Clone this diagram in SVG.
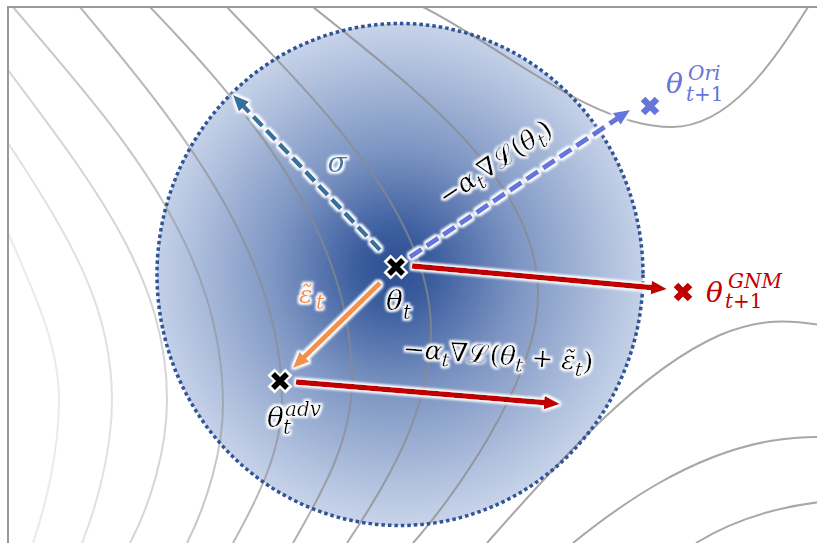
<svg xmlns="http://www.w3.org/2000/svg" width="817" height="543" viewBox="0 0 817 543">
<defs>
<style>
.ct{fill:none;stroke:#8a8a8a;stroke-width:2}
.m{font-family:"DejaVu Serif","Liberation Serif",serif}
.i{font-style:italic}
.gl{filter:url(#glow)}
.arr{fill:none}
</style>
<radialGradient id="rg" gradientUnits="userSpaceOnUse" cx="400" cy="274" r="250" fx="394" fy="268">
<stop offset="0" stop-color="#2d4f92"/>
<stop offset="0.15" stop-color="#3b5d9e"/>
<stop offset="0.5" stop-color="#7f97c4"/>
<stop offset="0.8" stop-color="#abbcdb"/>
<stop offset="1" stop-color="#c7d3e9"/>
</radialGradient>
<filter id="glow" filterUnits="userSpaceOnUse" x="0" y="0" width="817" height="543">
<feMorphology in="SourceAlpha" operator="dilate" radius="1.5" result="d"/>
<feGaussianBlur in="d" stdDeviation="1.2" result="b"/>
<feFlood flood-color="#ffffff" result="f"/>
<feComposite in="f" in2="b" operator="in" result="g"/>
<feMerge><feMergeNode in="g"/><feMergeNode in="SourceGraphic"/></feMerge>
</filter>
<marker id="ah-sig" markerUnits="userSpaceOnUse" markerWidth="20" markerHeight="20" viewBox="0 0 20 20" refX="2" refY="10" orient="auto"><path d="M0,3 L16,10 L0,17 z" fill="#36709e"/></marker>
<marker id="ah-ori" markerUnits="userSpaceOnUse" markerWidth="20" markerHeight="20" viewBox="0 0 20 20" refX="2" refY="10" orient="auto"><path d="M0,3 L16,10 L0,17 z" fill="#6575da"/></marker>
<marker id="ah-eps" markerUnits="userSpaceOnUse" markerWidth="20" markerHeight="20" viewBox="0 0 20 20" refX="2" refY="10" orient="auto"><path d="M0,3 L16,10 L0,17 z" fill="#f39149"/></marker>
<marker id="ah-red" markerUnits="userSpaceOnUse" markerWidth="20" markerHeight="20" viewBox="0 0 20 20" refX="2" refY="10" orient="auto"><path d="M0,3 L16,10 L0,17 z" fill="#c00000"/></marker>
<path id="xw" d="M-9,-9L9,9M9,-9L-9,9"/>
<path id="xb" d="M-7,-7L7,7M7,-7L-7,7"/>
<clipPath id="frame"><rect x="8" y="7" width="809" height="536"/></clipPath>
</defs>

<rect x="0" y="0" width="817" height="543" fill="#ffffff"/>

<g id="region">
<ellipse cx="400" cy="274.5" rx="243" ry="251" fill="url(#rg)"/>
</g>

<g id="contours" clip-path="url(#frame)">
<path class="ct" stroke-opacity="0.18" d="M8,233 C40,305 59,350 59,400 C59,450 46,505 33,543"/>
<path class="ct" stroke-opacity="0.26" d="M8,143 C74,243 112,310 112,400 C112,450 97,505 82,543"/>
<path class="ct" stroke-opacity="0.36" d="M8,70 C98,190 167,280 167,400 C167,450 150,505 130,543"/>
<path class="ct" stroke-opacity="0.48" d="M13,7 C117,129 223,245 223,405 C223,450 207,503 187,543"/>
<path class="ct" stroke-opacity="0.6" d="M80,7 C176,122 282,250 282,400 C282,450 258,498 233,543"/>
<path class="ct" stroke-opacity="0.68" d="M150,7 C247,108 352,230 352,380 C352,440 323,491 293,543"/>
<path class="ct" stroke-opacity="0.72" d="M227,7 C310,95 431,210 431,330 C431,410 386,485 347,543"/>
<path class="ct" stroke-opacity="0.75" d="M313,7 C430,100 538,185 538,295 C538,380 453,498 413,543"/>
<path class="ct" stroke-opacity="0.75" d="M423,7 C500,45 590,127 672,127 C730,127 775,60 808,7 L830,-25"/>
<path class="ct" stroke-opacity="0.75" d="M487,543 C560,460 640,370 720,335 C760,318 790,320 820,325"/>
<path class="ct" stroke-opacity="0.75" d="M573,543 C620,505 690,455 770,441 C790,438 805,437 820,437"/>
<path class="ct" stroke-opacity="0.75" d="M696,543 C730,522 770,508 820,502"/>
</g>

<g id="region-border">
<ellipse cx="400" cy="274.5" rx="243" ry="251" fill="none" stroke="#2f5597" stroke-width="3.5" stroke-dasharray="3.5 3"/>
</g>

<g id="frame-lines" stroke="#999999" stroke-width="2" fill="none">
<path d="M8,543 L8,7 L817,7"/>
</g>

<g id="connectors">
<path class="arr gl" d="M380,250 L242.6,105.2" stroke="#36709e" stroke-width="4.5" stroke-dasharray="13 6" marker-end="url(#ah-sig)"/>
<path class="arr gl" d="M410,257 L618.4,117.8" stroke="#6575da" stroke-width="5" stroke-dasharray="14 6" marker-end="url(#ah-ori)"/>
<path class="arr gl" d="M380,283 L303,358.2" stroke="#f39149" stroke-width="5" marker-end="url(#ah-eps)"/>
<path class="arr gl" d="M412,266 L653.1,287.7" stroke="#c00000" stroke-width="5.5" marker-end="url(#ah-red)"/>
<path class="arr gl" d="M296,382 L546,402.8" stroke="#c00000" stroke-width="5.5" marker-end="url(#ah-red)"/>
<text class="m i gl" x="337" y="172" font-size="28" fill="#4577a6" text-anchor="middle">σ</text>
<g class="gl"><text class="m" transform="translate(500,170) rotate(-34)" x="0" y="0" text-anchor="middle" font-size="26" fill="#000"><tspan>−</tspan><tspan class="i">α</tspan><tspan class="i" font-size="19" dy="6">t</tspan><tspan dy="-6">∇ℒ(</tspan><tspan class="i">θ</tspan><tspan class="i" font-size="19" dy="6">t</tspan><tspan dy="-6">)</tspan></text></g>
<text class="m gl" fill="#f39149"><tspan class="i" x="299" y="303" font-size="25">ε̃</tspan><tspan class="i" x="316" y="309" font-size="20">t</tspan></text>
<g class="gl"><text class="m" transform="translate(497.5,364) rotate(4)" x="0" y="0" text-anchor="middle" font-size="26" fill="#000"><tspan>−</tspan><tspan class="i">α</tspan><tspan class="i" font-size="19" dy="6">t</tspan><tspan dy="-6">∇ℒ(</tspan><tspan class="i">θ</tspan><tspan class="i" font-size="19" dy="6">t</tspan><tspan dy="-6"> + </tspan><tspan class="i">ε̃</tspan><tspan class="i" font-size="19" dy="6">t</tspan><tspan dy="-6">)</tspan></text></g>
</g>

<g id="node-theta-t">
<g transform="translate(396,267)"><use href="#xw" stroke="#ffffff" stroke-width="10"/><use href="#xb" stroke="#000000" stroke-width="5.5"/></g>
<text class="m gl" fill="#000"><tspan class="i" x="386" y="310" font-size="28">θ</tspan><tspan class="i" x="403" y="319" font-size="20">t</tspan></text>
</g>

<g id="node-theta-adv">
<g transform="translate(280,381)"><use href="#xw" stroke="#ffffff" stroke-width="10"/><use href="#xb" stroke="#000000" stroke-width="5.5"/></g>
<text class="m gl" fill="#000"><tspan class="i" x="267" y="427" font-size="28">θ</tspan><tspan class="i" x="285" y="416" font-size="20">adv</tspan><tspan class="i" x="283" y="434" font-size="20">t</tspan></text>
</g>

<g id="node-theta-ori">
<use href="#xb" transform="translate(650,106)" stroke="#6575da" stroke-width="6.5"/>
<text class="m" fill="#6575da"><tspan class="i" x="666" y="93" font-size="28">θ</tspan><tspan class="i" x="688" y="80" font-size="20">Ori</tspan><tspan x="686" y="101" font-size="20"><tspan class="i">t</tspan>+1</tspan></text>
</g>

<g id="node-theta-gnm">
<use href="#xb" transform="translate(683,292)" stroke="#c00000" stroke-width="6.5"/>
<text class="m" fill="#c00000"><tspan class="i" x="706" y="302" font-size="28">θ</tspan><tspan class="i" x="728" y="288" font-size="20">GNM</tspan><tspan x="725" y="308" font-size="20"><tspan class="i">t</tspan>+1</tspan></text>
</g>
</svg>
